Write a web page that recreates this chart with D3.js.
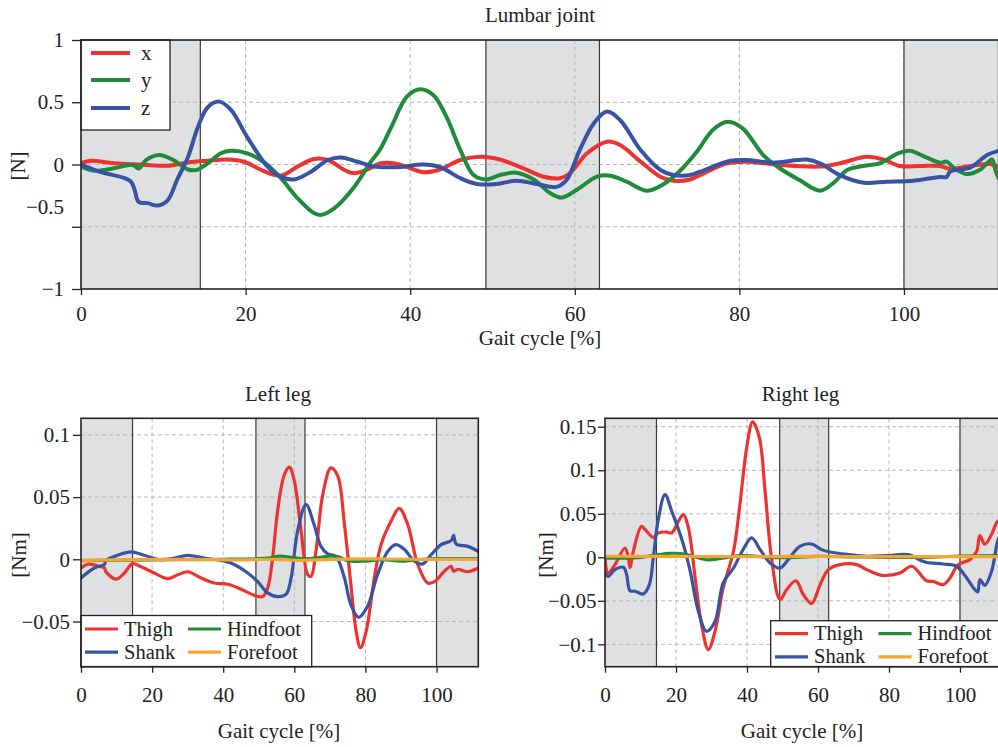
<!DOCTYPE html>
<html><head><meta charset="utf-8">
<script src="https://cdn.jsdelivr.net/npm/d3@7"></script>
<style>
body{margin:0;background:#fff;}
svg{display:block;font-family:"Liberation Serif","Times New Roman",serif;}
</style></head><body>
<svg id="c" width="998" height="747"></svg>
<script>
// ---------- DATA ----------
const gaitTicks = [0, 20, 40, 60, 80, 100];
const shadeSpans = [[0, 14.5], [49.2, 63.0], [100, 120]];
const lumbarTicks = [-1, -0.5, 0, 0.5, 1];
const leftTicks = [-0.05, 0, 0.05, 0.1];
const rightTicks = [-0.1, -0.05, 0, 0.05, 0.1, 0.15];

const lumbarX = [[0,0.01],[1.2,0.03],[4,0.01],[8.1,-0.004],[10.5,-0.01],[13,0.017],[15.4,0.03],[17.8,0.04],[19.8,0.022],[21.9,-0.044],[23.3,-0.08],[24.5,-0.085],[26.3,-0.017],[28.3,0.044],[30,0.036],[32,-0.044],[33.2,-0.071],[34.8,-0.04],[36.4,0.01],[38,0.01],[40,-0.03],[41.6,-0.062],[43.6,-0.04],[46.1,0.036],[48.5,0.062],[50.9,0.04],[53.7,-0.03],[56.2,-0.098],[58.2,-0.11],[59.4,-0.07],[61.5,0.09],[63.9,0.183],[65.5,0.157],[68,0.023],[70.4,-0.098],[72,-0.13],[74,-0.12],[75.2,-0.085],[78.5,0.01],[80.9,0.023],[84.9,-0.004],[89.8,-0.017],[92.2,0.01],[95.5,0.062],[97.5,0.04],[99.5,-0.012],[102,-0.012],[104.4,-0.012],[105.6,-0.035],[108.1,-0.012],[110.5,0.004],[111.5,-0.02]];
const lumbarY = [[0,-0.017],[1.6,-0.05],[4,-0.03],[6.3,-0.004],[7,-0.033],[7.9,0.036],[9.5,0.076],[11.1,0.04],[13,-0.04],[14,-0.044],[15.4,0.01],[17,0.09],[18.2,0.11],[20.2,0.09],[22.3,0.015],[24.3,-0.11],[26.3,-0.27],[28.3,-0.39],[29.1,-0.405],[30.8,-0.35],[33.2,-0.18],[35.2,0.02],[36.3,0.116],[37.7,0.30],[39.6,0.545],[41.2,0.604],[42.8,0.558],[44.4,0.384],[46.1,0.116],[47.7,-0.085],[49.3,-0.12],[50.9,-0.085],[52.9,-0.066],[55,-0.12],[57,-0.23],[58.4,-0.266],[60.2,-0.205],[62.7,-0.098],[64.3,-0.09],[66.3,-0.138],[68.8,-0.21],[70.8,-0.157],[72.8,-0.05],[74.8,0.10],[76.8,0.28],[78.6,0.344],[80.4,0.29],[82.9,0.076],[84.9,-0.03],[87.3,-0.125],[89.8,-0.21],[91.4,-0.15],[93.1,-0.044],[95.1,-0.012],[97.1,0.01],[99.1,0.084],[100.7,0.11],[102.7,0.057],[104.4,0.015],[105.2,0.023],[106,-0.023],[107.6,-0.077],[109.3,-0.04],[110.7,0.04],[111.1,-0.044],[111.5,-0.11]];
const lumbarZ = [[0,0],[2.4,-0.06],[5.3,-0.11],[6.1,-0.14],[6.5,-0.2],[7,-0.3],[8.1,-0.31],[9.3,-0.33],[10.5,-0.29],[11.7,-0.12],[13,0.06],[14.2,0.30],[15.4,0.46],[16.8,0.505],[18.2,0.44],[20.2,0.22],[22.7,-0.02],[24.3,-0.1],[25.9,-0.12],[27.9,-0.06],[30,0.036],[31.6,0.057],[33.6,0.022],[35.6,-0.017],[37.7,-0.023],[38.8,-0.02],[41.6,0.0],[43.6,-0.02],[46.1,-0.11],[48.1,-0.157],[50.5,-0.157],[52.9,-0.13],[55.4,-0.157],[57.8,-0.18],[59,-0.125],[60.6,0.116],[62.3,0.33],[63.9,0.425],[65.5,0.357],[68,0.116],[70.4,-0.044],[72,-0.085],[74,-0.085],[75.2,-0.058],[78.9,0.03],[80.9,0.036],[84.1,0.015],[88.2,0.04],[89.8,0.01],[92.2,-0.085],[95.1,-0.146],[97.9,-0.138],[101.2,-0.13],[104.4,-0.10],[105.2,-0.10],[105.6,-0.058],[108.1,-0.023],[110.1,0.076],[111.5,0.11]];

const leftThigh = [[0,-0.007],[1.9,-0.004],[5.6,-0.006],[6.6,-0.007],[7,-0.01],[9.8,-0.016],[12.2,-0.011],[14.5,-0.0035],[16.9,-0.006],[20.6,-0.011],[24.4,-0.0155],[27.2,-0.0125],[30,-0.01],[33.8,-0.015],[37.5,-0.019],[41.3,-0.02],[45,-0.024],[48.8,-0.029],[51.1,-0.03],[52.5,-0.023],[53.9,0.001],[55.3,0.039],[57.2,0.068],[58.6,0.074],[60,0.063],[61.9,0.023],[63.8,-0.0125],[64.7,-0.0137],[66.1,0.0065],[68,0.052],[70.3,0.0735],[72.2,0.067],[74.1,0.028],[75.9,-0.02],[77.4,-0.058],[78.6,-0.071],[80.2,-0.058],[82.5,-0.015],[84.4,0.0118],[87.2,0.0305],[89.5,0.041],[91.9,0.028],[94.7,-0.004],[97.5,-0.019],[99.4,-0.018],[102.2,-0.0096],[104.1,-0.0056],[104.8,-0.0096],[106,-0.008],[108.8,-0.01],[111.75,-0.007]];
const leftShank = [[0,-0.015],[3.75,-0.007],[6.6,-0.004],[7,-0.001],[10.3,0.0032],[14.1,0.006],[17.8,0.0032],[22.5,-0.0003],[26.3,0.001],[30,0.0032],[34.7,0.001],[39.4,-0.001],[42.2,-0.003],[46.9,-0.011],[49.7,-0.018],[52.5,-0.027],[55.3,-0.030],[57.7,-0.028],[59.1,-0.015],[60.9,0.0225],[63.3,0.044],[65.6,0.0275],[67.5,0.0104],[69.4,0.0043],[71.7,0.0024],[74.1,-0.015],[75.9,-0.0365],[78.1,-0.0466],[80.6,-0.0378],[83.4,-0.0123],[86.3,0.0064],[88.6,0.0118],[91,0.0078],[93.8,-0.0016],[96.1,-0.0037],[98.5,0.0037],[101.3,0.0118],[104.1,0.015],[104.8,0.0193],[105.5,0.0123],[108.8,0.0104],[111.75,0.0064]];
const leftHindfoot = [[0,-0.001],[20,-0.0005],[40,0],[50,0.0005],[53,0.001],[56,0.0025],[59,0.0015],[62,0.0005],[66,0.001],[70,0.0025],[72.5,0.002],[75,-0.0012],[80,-0.0015],[85,-0.0003],[90,-0.0015],[95,-0.0003],[100,0.0005],[111.75,0.0005]];
const leftForefoot = [[0,-0.0008],[15,-0.0002],[30,0],[45,-0.0004],[55,0],[60,-0.0008],[70,0],[80,0.0003],[95,0],[111.75,0]];

const rightThigh = [[0,0],[0.9,-0.018],[2.8,-0.0085],[5.6,0.0107],[6.6,-0.0007],[7.04,-0.012],[8,0.007],[10.3,0.0356],[11.7,0.03],[13.6,0.023],[15,0.028],[17.4,0.029],[18.8,0.028],[20.7,0.0415],[22.1,0.049],[23.5,0.0337],[25.4,-0.0237],[27.2,-0.0774],[29.1,-0.106],[31,-0.085],[33.3,-0.035],[36.2,0.0069],[38,0.0605],[39.9,0.1256],[41.6,0.1555],[43.5,0.1371],[45.1,0.0759],[46.9,-0.0007],[49.3,-0.0486],[51.2,-0.037],[53.8,-0.027],[55.9,-0.043],[58.2,-0.053],[60.6,-0.0314],[62.9,-0.0142],[66.2,-0.0084],[70.9,-0.0084],[73.7,-0.0142],[78,-0.0207],[83.1,-0.018],[86.4,-0.0103],[90.6,-0.027],[92.5,-0.0278],[95.3,-0.0314],[97.2,-0.0237],[99.5,-0.0084],[102.8,-0.0027],[104.7,0.0069],[105.6,0.025],[107,0.015],[108.9,0.0261],[110.6,0.0415],[111.75,0.042]];
const rightShank = [[0,-0.018],[0.9,-0.022],[2.8,-0.0142],[5.2,-0.0115],[6.1,-0.02],[7.04,-0.0384],[8.45,-0.039],[10.8,-0.0421],[12.5,-0.0314],[13.6,-0.0007],[15,0.0433],[16.9,0.072],[18.8,0.053],[22.1,0.0146],[24,-0.016],[26.3,-0.062],[28.6,-0.085],[31,-0.0735],[33.3,-0.0295],[36.2,-0.0123],[38.9,0.0088],[41.3,0.0222],[43.7,0.0088],[46.5,-0.0065],[49.3,-0.0123],[51.6,-0.0027],[54.9,0.0126],[58.2,0.0153],[61,0.0088],[63.4,0.0061],[69,0.003],[73.7,0.0011],[79.3,0.0019],[85.4,0.003],[90.1,-0.0054],[95.3,-0.0077],[99,-0.0103],[101.9,-0.0237],[103.8,-0.0352],[105,-0.0398],[105.6,-0.0257],[107,-0.0322],[108.9,-0.016],[110.6,0.0184],[111.75,0.03]];
const rightHindfoot = [[0,-0.001],[10,0],[15,0.003],[18,0.0045],[22,0.004],[25,0.001],[29,-0.003],[33,-0.001],[38,0.002],[42,0.0015],[46,0],[50,-0.0005],[60,0.001],[70,0.0005],[80,0],[90,0],[100,0.0015],[111.75,0.002]];
const rightForefoot = [[0,0.0012],[20,0.001],[40,0.0008],[60,0.001],[80,0.0008],[100,0.0008],[111.75,0.0008]];

// ---------- STYLE ----------
const RED = "#ec3330", GREEN = "#1f8b3b", BLUE = "#3953a4", ORANGE = "#f6a532";
const FS = 21, LFS = 20.5;
const svg = d3.select("#c");

function panel(cfg) {
  const g = svg.append("g");
  const x = d3.scaleLinear().domain(cfg.xDomain).range([cfg.left, cfg.right]);
  const y = d3.scaleLinear().domain(cfg.yDomain).range([cfg.bottom, cfg.top]);
  const W = cfg.right - cfg.left, H = cfg.bottom - cfg.top;
  const clipId = "clip-" + cfg.name;
  svg.append("clipPath").attr("id", clipId).append("rect")
    .attr("x", cfg.left).attr("y", cfg.top).attr("width", W).attr("height", H);
  const plot = g.append("g").attr("clip-path", `url(#${clipId})`);

  plot.selectAll("rect.shade").data(shadeSpans).join("rect").attr("class", "shade")
    .attr("x", d => x(d[0])).attr("width", d => x(d[1]) - x(d[0]))
    .attr("y", cfg.top).attr("height", H).attr("fill", "#dfe0e2");

  plot.selectAll("line.gx").data(gaitTicks.filter(v => v > 0)).join("line").attr("class", "gx")
    .attr("x1", d => x(d)).attr("x2", d => x(d)).attr("y1", cfg.top).attr("y2", cfg.bottom)
    .attr("stroke", "#b8b8b8").attr("stroke-width", 1).attr("stroke-dasharray", "4,3");
  plot.selectAll("line.gy").data(cfg.yTicks.filter(v => y(v) > cfg.top + 2 && y(v) < cfg.bottom - 2)).join("line").attr("class", "gy")
    .attr("x1", cfg.left).attr("x2", cfg.right).attr("y1", d => y(d)).attr("y2", d => y(d))
    .attr("stroke", "#b8b8b8").attr("stroke-width", 1).attr("stroke-dasharray", "4,3");

  const edges = shadeSpans.flat().filter(v => v > 0 && v < cfg.xDomain[1]);
  plot.selectAll("line.edge").data(edges).join("line").attr("class", "edge")
    .attr("x1", d => x(d)).attr("x2", d => x(d)).attr("y1", cfg.top).attr("y2", cfg.bottom)
    .attr("stroke", "#3a3a3a").attr("stroke-width", 1.2);

  const line = d3.line().x(d => x(d[0])).y(d => y(d[1])).curve(d3.curveCatmullRom.alpha(0.5));
  cfg.series.forEach(s => {
    plot.append("path").attr("d", line(s.data)).attr("fill", "none")
      .attr("stroke", s.color).attr("stroke-width", cfg.lw)
      .attr("stroke-linejoin", "round").attr("stroke-linecap", "round");
  });

  // legend
  const L = cfg.legend;
  g.append("rect").attr("x", L.x).attr("y", L.y).attr("width", L.w).attr("height", L.h)
    .attr("fill", "#fff").attr("stroke", "#222").attr("stroke-width", 1.3);
  L.items.forEach(it => {
    const s = cfg.series[it.i];
    g.append("line").attr("x1", it.lx).attr("x2", it.lx + L.len).attr("y1", it.ly).attr("y2", it.ly)
      .attr("stroke", s.color).attr("stroke-width", L.lw);
    g.append("text").attr("x", it.lx + L.len + L.gap).attr("y", it.ly).attr("dy", "0.32em")
      .attr("font-size", L.fs).attr("fill", "#222").text(s.name);
  });

  // frame
  g.append("rect").attr("x", cfg.left).attr("y", cfg.top).attr("width", W).attr("height", H)
    .attr("fill", "none").attr("stroke", "#222").attr("stroke-width", 1.6);

  // axes
  const fmt = d3.format("");
  const ax = g.append("g").attr("transform", `translate(0,${cfg.bottom})`)
    .call(d3.axisBottom(x).tickValues(gaitTicks).tickFormat(fmt).tickSize(6).tickPadding(cfg.xPad));
  const ay = g.append("g").attr("transform", `translate(${cfg.left},0)`)
    .call(d3.axisLeft(y).tickValues(cfg.yTicks).tickFormat(fmt).tickSize(cfg.yTick).tickPadding(cfg.yPad));
  [ax, ay].forEach(a => {
    a.select(".domain").remove();
    a.selectAll(".tick line").attr("stroke", "#222").attr("stroke-width", 1.3);
    a.selectAll(".tick text").attr("font-size", FS).attr("fill", "#222")
      .attr("font-family", '"Liberation Serif","Times New Roman",serif');
  });
  if (cfg.yTweak) {
    ay.selectAll(".tick").filter(d => d === cfg.yTweak.v).select("text").attr("dy", cfg.yTweak.dy);
  }

  g.append("text").attr("x", cfg.titleX).attr("y", cfg.titleY).attr("text-anchor", "middle")
    .attr("font-size", FS).attr("fill", "#222").text(cfg.title);
  g.append("text").attr("x", cfg.xlabX).attr("y", cfg.xlabY).attr("text-anchor", "middle")
    .attr("font-size", FS).attr("fill", "#222").text("Gait cycle [%]");
  g.append("text").attr("transform", `translate(${cfg.ylabX},${cfg.ylabY}) rotate(-90)`)
    .attr("text-anchor", "middle").attr("font-size", FS).attr("fill", "#222").text(cfg.ylabel);
}

panel({
  name: "lumbar", left: 81, right: 998.6, top: 40, bottom: 289,
  xDomain: [0, 111.5], yDomain: [-1, 1], yTicks: lumbarTicks, lw: 4,
  xPad: 11, yTick: 9, yPad: 8, yTweak: {v: -0.5, dy: "-0.63em"},
  title: "Lumbar joint", titleX: 540, titleY: 22,
  xlabX: 540, xlabY: 345, ylabel: "[N]", ylabX: 25, ylabY: 166,
  series: [
    {name: "x", color: RED, data: lumbarX},
    {name: "y", color: GREEN, data: lumbarY},
    {name: "z", color: BLUE, data: lumbarZ}
  ],
  legend: {x: 81, y: 40, w: 89, h: 90, len: 39, gap: 11, lw: 4, fs: FS,
    items: [{i: 0, lx: 91, ly: 53}, {i: 1, lx: 91, ly: 80}, {i: 2, lx: 91, ly: 108}]}
});

panel({
  name: "left", left: 81, right: 478.3, top: 418.3, bottom: 666.7,
  xDomain: [0, 111.75], yDomain: [-0.0863, 0.1133], yTicks: leftTicks, lw: 3.2,
  xPad: 14, yTick: 8, yPad: 3,
  title: "Left leg", titleX: 278, titleY: 401,
  xlabX: 279, xlabY: 738, ylabel: "[Nm]", ylabX: 26, ylabY: 555,
  series: [
    {name: "Thigh", color: RED, data: leftThigh},
    {name: "Shank", color: BLUE, data: leftShank},
    {name: "Hindfoot", color: GREEN, data: leftHindfoot},
    {name: "Forefoot", color: ORANGE, data: leftForefoot}
  ],
  legend: {x: 81, y: 615.5, w: 230.7, h: 51.2, len: 33, gap: 6, lw: 3.2, fs: LFS,
    items: [{i: 0, lx: 85, ly: 629}, {i: 1, lx: 85, ly: 652.2}, {i: 2, lx: 188, ly: 629}, {i: 3, lx: 188, ly: 652.2}]}
});

panel({
  name: "right", left: 605, right: 1001.7, top: 418.3, bottom: 666.7,
  xDomain: [0, 111.75], yDomain: [-0.1257, 0.1597], yTicks: rightTicks, lw: 3.2,
  xPad: 14, yTick: 7, yPad: 1.5,
  title: "Right leg", titleX: 800.5, titleY: 401,
  xlabX: 802, xlabY: 738, ylabel: "[Nm]", ylabX: 552.5, ylabY: 555,
  series: [
    {name: "Thigh", color: RED, data: rightThigh},
    {name: "Shank", color: BLUE, data: rightShank},
    {name: "Hindfoot", color: GREEN, data: rightHindfoot},
    {name: "Forefoot", color: ORANGE, data: rightForefoot}
  ],
  legend: {x: 770.7, y: 620.7, w: 240, h: 46, len: 33, gap: 6, lw: 3.2, fs: LFS,
    items: [{i: 0, lx: 775, ly: 633.7}, {i: 1, lx: 775, ly: 656.9}, {i: 2, lx: 878.5, ly: 633.7}, {i: 3, lx: 878.5, ly: 656.9}]}
});
</script>
</body></html>
